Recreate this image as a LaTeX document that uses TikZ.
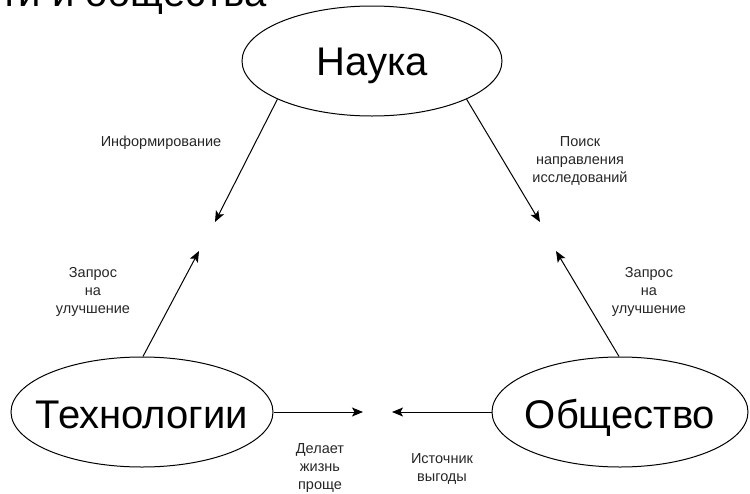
\documentclass[tikz,border=0pt]{standalone}
\usepackage{fontspec}
\setmainfont{Liberation Sans}
\usetikzlibrary{shapes.geometric,arrows.meta}
\begin{document}
\begin{tikzpicture}[x=1pt,y=-1pt,
  oval/.style={draw,ellipse,line width=1pt,minimum width=#1,minimum height=110pt,inner sep=0pt},
  big/.style={font=\fontsize{40}{48}\selectfont,inner sep=0pt},
  conn/.style={line width=1pt,-{Stealth[length=11pt,width=9pt,inset=2.5pt]}},
  lbl/.style={align=center,inner sep=0pt,font=\fontsize{14.5}{18}\selectfont,text=black!85}]
\clip (0,0) rectangle (750,493);
\useasboundingbox (0,0) rectangle (750,493);
\node[anchor=base east,big] (title) at (267,6) {ти и общества};
\node[oval=260pt] (sci) at (372,61) {};
\node[oval=262pt] (tech) at (142,412) {};
\node[oval=256pt] (soc) at (620,412) {};
\node[big,anchor=base] (scit) at (372,75) {Наука};
\node[big,anchor=base] (techt) at (142,428) {Технологии};
\node[big,anchor=base] (soct) at (620,428) {Общество};
\coordinate (t1) at (215,222);
\coordinate (t2) at (540,222);
\coordinate (t3) at (199,251);
\coordinate (t4) at (556,251);
\coordinate (t5) at (363,412);
\coordinate (t6) at (392,412);
\draw[conn] (sci.202) -- (t1);
\draw[conn] (sci.338) -- (t2);
\draw[conn] (tech.89) -- (t3);
\draw[conn] (soc.91) -- (t4);
\draw[conn] (tech.east) -- (t5);
\draw[conn] (soc.west) -- (t6);
\node[lbl] (l1) at (161,143) {Информирование};
\node[lbl] (l2) at (580,161) {Поиск\\направления\\исследований};
\node[lbl] (l3) at (93,292) {Запрос\\на\\улучшение};
\node[lbl] (l4) at (649,292) {Запрос\\на\\улучшение};
\node[lbl] (l5) at (320,468) {Делает\\жизнь\\проще};
\node[lbl] (l6) at (442,469) {Источник\\выгоды};
\end{tikzpicture}
\end{document}
